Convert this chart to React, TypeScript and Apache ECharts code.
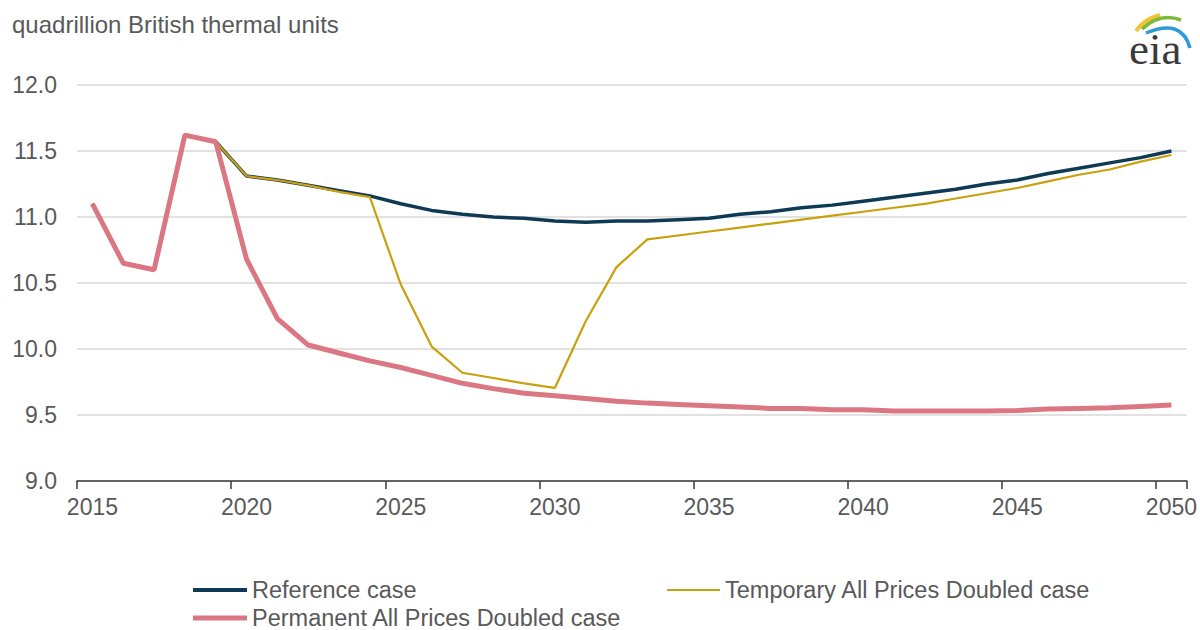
import React, { useEffect, useRef } from "react";
import * as echarts from "echarts";

const years: string[] = [];
for (let y = 2015; y <= 2050; y++) years.push(String(y));

const referenceCase = [
  11.1, 10.65, 10.6, 11.62, 11.57, 11.31, 11.28, 11.24, 11.2, 11.16,
  11.1, 11.05, 11.02, 11.0, 10.99, 10.97, 10.96, 10.97, 10.97, 10.98,
  10.99, 11.02, 11.04, 11.07, 11.09, 11.12, 11.15, 11.18, 11.21, 11.25,
  11.28, 11.33, 11.37, 11.41, 11.45, 11.5,
];

const temporaryCase = [
  11.1, 10.65, 10.6, 11.62, 11.57, 11.31, 11.28, 11.24, 11.19, 11.15,
  10.49, 10.02, 9.82, 9.78, 9.74, 9.705, 10.21, 10.62, 10.83, 10.86,
  10.89, 10.92, 10.95, 10.98, 11.01, 11.04, 11.07, 11.1, 11.14, 11.18,
  11.22, 11.27, 11.32, 11.36, 11.42, 11.47,
];

const permanentCase = [
  11.1, 10.65, 10.6, 11.62, 11.57, 10.68, 10.23, 10.03, 9.97, 9.91,
  9.86, 9.8, 9.74, 9.7, 9.665, 9.645, 9.625, 9.605, 9.59, 9.58,
  9.57, 9.56, 9.55, 9.55, 9.54, 9.54, 9.53, 9.53, 9.53, 9.53,
  9.535, 9.545, 9.55, 9.555, 9.565, 9.575,
];

const seriesNames = [
  "Reference case",
  "Temporary All Prices Doubled case",
  "Permanent All Prices Doubled case",
];

const COLORS = ["#0E3A56", "#C9A00E", "#DB7782"];
const TEXT = "#595959";
const FONT = "'Liberation Sans', Arial, sans-serif";

export default function App() {
  const ref = useRef<HTMLDivElement>(null);

  useEffect(() => {
    if (!ref.current) return;
    const chart = echarts.init(ref.current, undefined, { renderer: "svg" });
    const legendText = { color: TEXT, fontSize: 23.5, fontFamily: FONT, lineHeight: 24 };
    chart.setOption({
      animation: false,
      backgroundColor: "#ffffff",
      grid: { left: 77, right: 12, top: 85, bottom: 149, containLabel: false },
      legend: [
        {
          data: [seriesNames[0]],
          left: 193,
          top: 578,
          icon: "rect",
          itemWidth: 54,
          itemHeight: 4,
          itemGap: 6,
          textStyle: legendText,
          selectedMode: false,
          padding: 0,
        },
        {
          data: [seriesNames[1]],
          left: 667,
          top: 578,
          icon: "rect",
          itemWidth: 53,
          itemHeight: 2,
          textStyle: legendText,
          selectedMode: false,
          padding: 0,
        },
        {
          data: [seriesNames[2]],
          left: 193,
          top: 606,
          icon: "rect",
          itemWidth: 54,
          itemHeight: 5,
          textStyle: legendText,
          selectedMode: false,
          padding: 0,
        },
      ],
      xAxis: {
        type: "category",
        data: years,
        boundaryGap: true,
        axisLine: { lineStyle: { color: "#3a3a3a", width: 1.5 } },
        axisTick: {
          show: true,
          interval: 4,
          alignWithLabel: false,
          length: 8,
          lineStyle: { color: "#3a3a3a", width: 1.5 },
        },
        axisLabel: {
          interval: 4,
          color: TEXT,
          fontSize: 23,
          fontFamily: FONT,
          margin: 14,
        },
        splitLine: { show: false },
      },
      yAxis: {
        type: "value",
        min: 9,
        max: 12,
        interval: 0.5,
        axisLine: { show: false },
        axisTick: { show: false },
        axisLabel: {
          color: TEXT,
          fontSize: 23,
          fontFamily: FONT,
          margin: 20,
          formatter: (v: number) => v.toFixed(1),
        },
        splitLine: { lineStyle: { color: "#d9d9d9", width: 1.5 } },
      },
      series: [
        {
          name: seriesNames[0],
          type: "line",
          data: referenceCase,
          symbol: "none",
          lineStyle: { color: COLORS[0], width: 3.5 },
          itemStyle: { color: COLORS[0] },
          z: 2,
        },
        {
          name: seriesNames[1],
          type: "line",
          data: temporaryCase,
          symbol: "none",
          lineStyle: { color: COLORS[1], width: 2.2 },
          itemStyle: { color: COLORS[1] },
          z: 3,
        },
        {
          name: seriesNames[2],
          type: "line",
          data: permanentCase,
          symbol: "none",
          lineStyle: { color: COLORS[2], width: 5 },
          itemStyle: { color: COLORS[2] },
          z: 4,
        },
      ],
      graphic: [
        {
          type: "text",
          left: 12,
          top: 12,
          style: {
            text: "quadrillion British thermal units",
            fill: TEXT,
            fontSize: 24,
            fontFamily: FONT,
          },
        },
        {
          type: "text",
          x: 1129,
          y: 26,
          style: {
            text: "eia",
            fill: "#3a3a3a",
            fontSize: 45,
            fontFamily: "'Liberation Serif', 'DejaVu Serif', serif",
          },
        },
        {
          type: "bezierCurve",
          shape: { x1: 1136, y1: 31, cpx1: 1144, cpy1: 19, x2: 1160, y2: 15 },
          style: { stroke: "#F2C230", lineWidth: 4, fill: "none" },
        },
        {
          type: "bezierCurve",
          shape: { x1: 1142, y1: 29, cpx1: 1160, cpy1: 12, x2: 1181, y2: 20 },
          style: { stroke: "#7CB83C", lineWidth: 3.5, fill: "none" },
        },
        {
          type: "bezierCurve",
          shape: { x1: 1146, y1: 33, cpx1: 1182, cpy1: 18, x2: 1190, y2: 48 },
          style: { stroke: "#2E9BD6", lineWidth: 3.5, fill: "none" },
        },
      ],
    });
    return () => chart.dispose();
  }, []);

  return (
    <div
      ref={ref}
      style={{ position: "fixed", left: 0, top: 0, width: 1200, height: 630 }}
    />
  );
}
